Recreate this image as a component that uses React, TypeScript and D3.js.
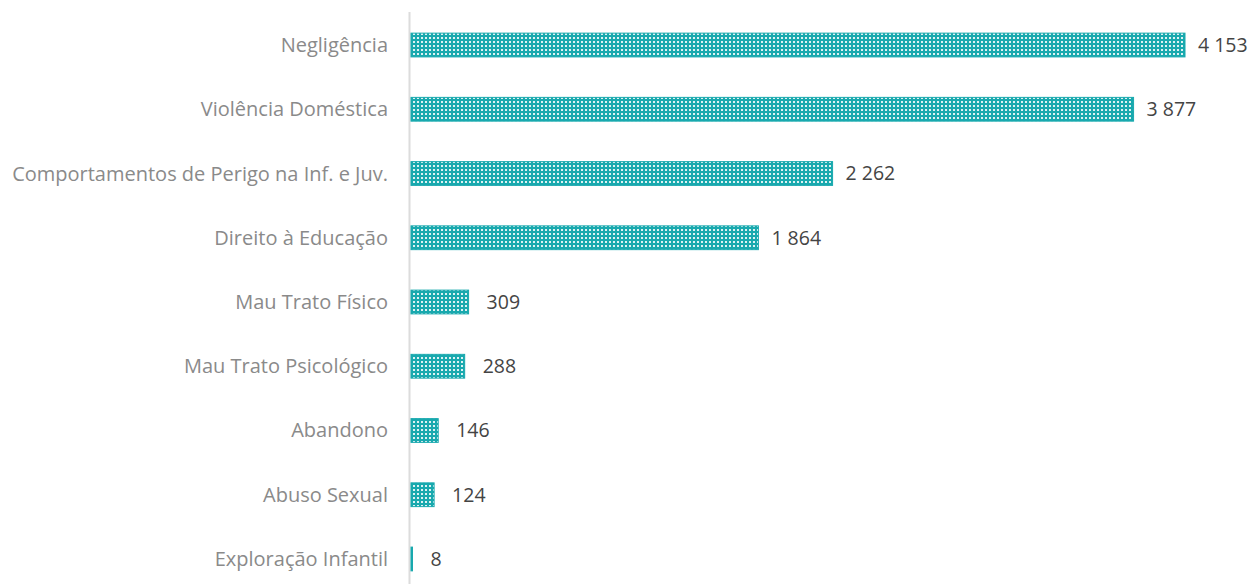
import React from "react";
import * as d3 from "d3";

const categories = [
  "Negligência",
  "Violência Doméstica",
  "Comportamentos de Perigo na Inf. e Juv.",
  "Direito à Educação",
  "Mau Trato Físico",
  "Mau Trato Psicológico",
  "Abandono",
  "Abuso Sexual",
  "Exploração Infantil",
];
const values = [4153, 3877, 2262, 1864, 309, 288, 146, 124, 8];

const W = 1251;
const H = 584;
const TEAL = "#19a9ae";

const locale = d3.formatLocale({ decimal: ",", thousands: " ", grouping: [3], currency: ["", "€"] });
const fmt = locale.format(",d");

export default function App() {
  const x = d3.scaleLinear().domain([0, 4153]).range([411, 1185]);
  const y = d3
    .scaleBand<string>()
    .domain(categories)
    .range([12.9, 591.1])
    .paddingInner(0.63)
    .paddingOuter(0.315);
  const font = "'Open Sans', sans-serif";
  return (
    <svg
      width={W}
      height={H}
      style={{ position: "absolute", left: 0, top: 0, display: "block", background: "#fff" }}
    >
      <defs>
        <pattern id="dots" patternUnits="userSpaceOnUse" width={4} height={4}>
          <rect x={0} y={0} width={4} height={4} fill={TEAL} />
          <rect x={1} y={1} width={2} height={2} fill="#ffffff" opacity={0.85} />
        </pattern>
      </defs>
      <line x1={409.5} x2={409.5} y1={12} y2={H} stroke="#dcdcdc" strokeWidth={2} />
      {categories.map((c, i) => {
        const v = values[i];
        const yy = y(c) as number;
        const bw = y.bandwidth();
        const x1 = x(v);
        return (
          <g key={c}>
            <rect
              x={x(0)}
              y={yy}
              width={Math.max(1, x1 - x(0))}
              height={bw}
              fill="url(#dots)"
              stroke={TEAL}
              strokeWidth={1}
            />
            <text
              x={388}
              y={yy + bw / 2}
              dy="0.35em"
              textAnchor="end"
              fontFamily={font}
              fontSize={20}
              fill="#8a8a8a"
            >
              {c}
            </text>
            <text
              x={x1 + (v >= 1000 ? 13 : 18)}
              y={yy + bw / 2}
              dy="0.35em"
              fontFamily={font}
              fontSize={19.5}
              fill="#444444"
            >
              {fmt(v)}
            </text>
          </g>
        );
      })}
    </svg>
  );
}
